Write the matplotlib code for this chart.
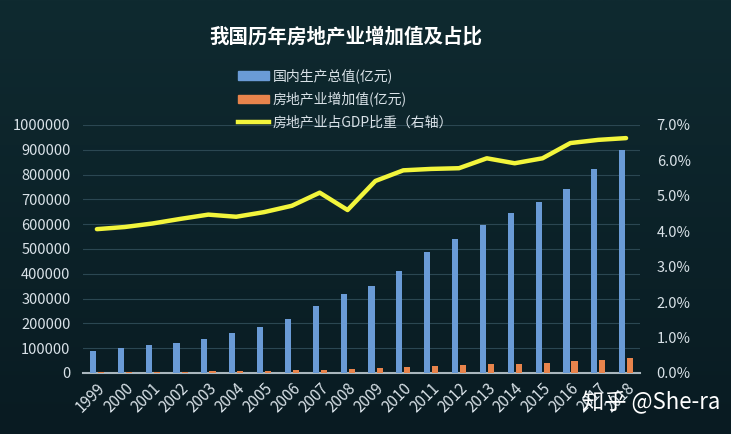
import numpy as np
import matplotlib
matplotlib.use("Agg")
from matplotlib import pyplot as plt
from matplotlib.patches import Patch
from matplotlib.lines import Line2D
from matplotlib.ticker import FuncFormatter

plt.rcParams['font.family'] = ['Noto Sans CJK SC', 'DejaVu Sans']

years = [str(y) for y in range(1999, 2019)]
# 国内生产总值(亿元)
gdp = [90564, 100280, 110863, 121717, 137422, 161840, 187319, 219439, 270232, 319516,
       349081, 413030, 489301, 540367, 595244, 643974, 689052, 743586, 820754, 900310]
# 房地产业增加值(亿元)
realestate = [4150, 4149, 4715, 5346, 6172, 7174, 8516, 10370, 13809, 14738,
              18966, 23569, 28168, 31248, 35988, 38001, 41701, 48191, 53851, 59846]
# 房地产业占GDP比重 (%)
share = [4.06, 4.12, 4.22, 4.35, 4.47, 4.41, 4.54, 4.72, 5.09, 4.60,
         5.42, 5.72, 5.76, 5.78, 6.06, 5.92, 6.06, 6.49, 6.58, 6.63]

bg_top = np.array([15, 42, 48]) / 255
bg_bot = np.array([9, 27, 34]) / 255
text_col = '#d9e2e8'

fig = plt.figure(figsize=(7.31, 4.34), dpi=100)

# background gradient
bg = fig.add_axes([0, 0, 1, 1], zorder=-1)
t = np.linspace(0, 1, 200)[:, None]
grad = bg_top * (1 - t[..., None]) + bg_bot * t[..., None]
grad = np.repeat(grad, 2, axis=1)
bg.imshow(grad, aspect='auto', extent=[0, 1, 0, 1])
bg.axis('off')

ax = fig.add_axes([0.1135, 0.1406, 0.762, 0.5714])
ax.patch.set_alpha(0)
x = np.arange(len(years))
w = 0.22
ax.bar(x - 0.14, gdp, width=w, color='#6a9bd6', zorder=3, label='国内生产总值(亿元)')
ax.bar(x + 0.15, realestate, width=w, color='#e8844c', zorder=3, label='房地产业增加值(亿元)')
ax.set_xlim(-0.5, len(years) - 0.5)
ax.set_ylim(0, 1000000)
ax.set_yticks(np.arange(0, 1000001, 100000))
ax.yaxis.set_major_formatter(FuncFormatter(lambda v, p: '%d' % v))
ax.grid(axis='y', color='#2b4752', linewidth=0.8, zorder=0)
ax.set_xticks(x)
ax.set_xticklabels(years, rotation=45, ha='right', rotation_mode='anchor')
for s in ['top', 'right', 'left']:
    ax.spines[s].set_visible(False)
ax.spines['bottom'].set_color('#a9b6bd')
ax.spines['bottom'].set_linewidth(1.5)
ax.tick_params(axis='both', length=0, colors=text_col, labelsize=10.5)
ax.tick_params(axis='y', pad=9)
ax.tick_params(axis='x', pad=5, labelsize=11)

ax2 = ax.twinx()
ax2.plot(x, share, color='#f2f53c', linewidth=3.2, solid_capstyle='round', zorder=5)
ax2.set_ylim(0, 7)
ax2.set_yticks(np.arange(0, 7.1, 1))
ax2.yaxis.set_major_formatter(FuncFormatter(lambda v, p: '%.1f%%' % v))
for s in ax2.spines.values():
    s.set_visible(False)
ax2.tick_params(axis='y', length=0, colors=text_col, labelsize=10.5, pad=12)

handles = [Patch(color='#6a9bd6'), Patch(color='#e8844c'),
           Line2D([0], [0], color='#f2f53c', linewidth=3.2)]
labels = ['国内生产总值(亿元)', '房地产业增加值(亿元)', '房地产业占GDP比重（右轴）']
fig.legend(handles, labels, loc='upper left', bbox_to_anchor=(0.318, 0.855),
           frameon=False, fontsize=10, labelcolor=text_col, handlelength=2.2,
           handleheight=0.6, handletextpad=0.3, labelspacing=0.62, borderaxespad=0)

fig.text(0.473, 0.915, '我国历年房地产业增加值及占比', ha='center', va='center',
         fontsize=14, fontweight='bold', color='white')
fig.text(0.985, 0.072, '知乎 @She-ra', ha='right', va='center', fontsize=16,
         color='white')

plt.savefig('out.png', dpi=100)
